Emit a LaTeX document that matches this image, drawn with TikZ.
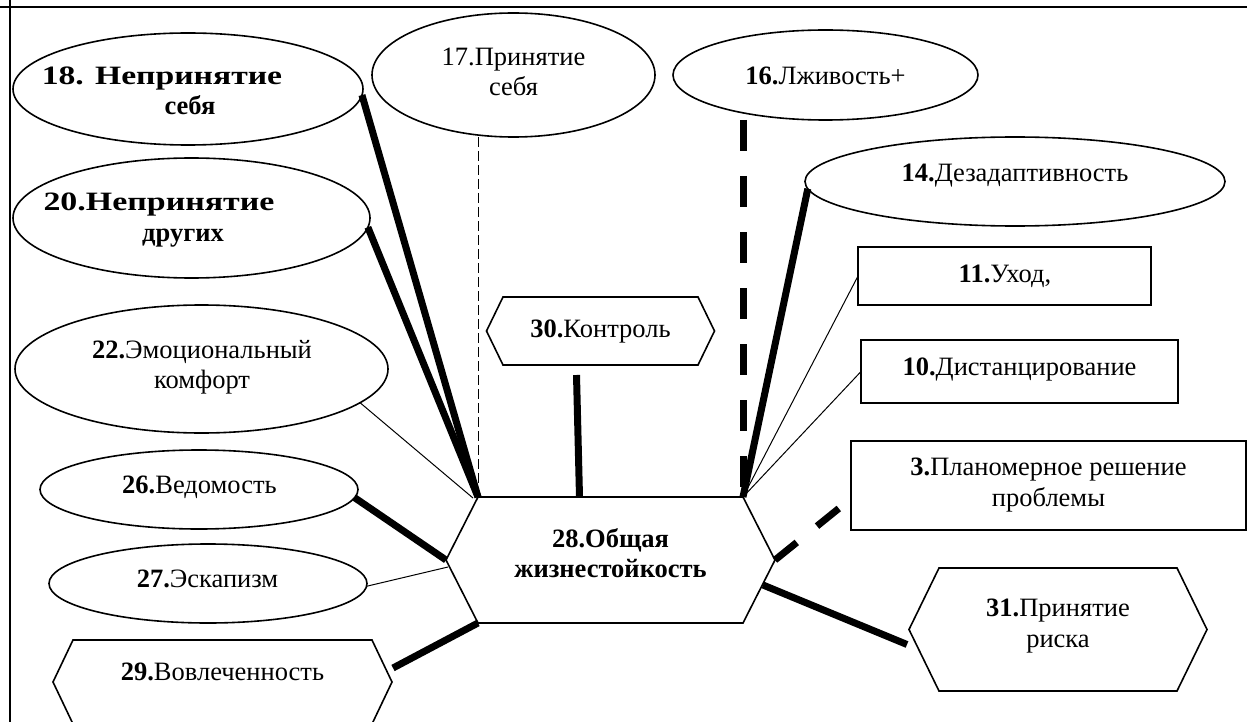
\documentclass[tikz,border=0pt]{standalone}
\usepackage{graphicx}
\usepackage{fontspec}
\setmainfont{Liberation Serif}
\usetikzlibrary{calc,shapes.geometric}

% a line of text shifted sideways inside its node
\newcommand\shiftedline[2]{\makebox[0pt]{\hspace*{#1}#2\hspace*{-#1}}}
% horizontally stretched bold line
\newcommand\widebold[2]{\scalebox{#1}[1]{\bfseries #2}}
% hexagon drawn round a plain rectangular node; #2 = depth of the side points
\newcommand\hexoutline[2]{%
  \coordinate (#1-l) at ($(#1.west)+(-#2,0)$);
  \coordinate (#1-r) at ($(#1.east)+(#2,0)$);
  \draw[shapeline, fill=white] (#1.north west) -- (#1.north east) -- (#1-r)
    -- (#1.south east) -- (#1.south west) -- (#1-l) -- cycle;}

\begin{document}
\begin{tikzpicture}[x=1pt, y=-1pt,
  every node/.style={inner sep=0pt, outer sep=0pt},
  shapeline/.style={line width=1.6pt},
  ell/.style={ellipse, draw, shapeline, fill=white},
  rectbox/.style={rectangle, draw, shapeline, fill=white},
  hexcore/.style={rectangle},
  lbl/.style={font=\fontsize{26.5}{30.5}\selectfont, align=center},
  thickc/.style={line width=7pt},
  thinc/.style={line width=1pt},
  thickdash/.style={line width=7pt, dash pattern=on 31pt off 25pt},
  thindash/.style={line width=1pt, dash pattern=on 10pt off 4pt}]

\useasboundingbox (0,0) rectangle (1247,722);
\clip (0,0) rectangle (1247,722);

% frame of the table cell
\draw[line width=2pt] (0,7.5) -- (1247,7.5);
\draw[line width=2pt] (9.5,0) -- (9.5,722);

% ellipses
\node[ell, minimum width=350pt, minimum height=112pt] (n18) at (188,89) {};
\node[ell, minimum width=283pt, minimum height=124pt] (n17) at (513.5,75) {};
\node[ell, minimum width=305pt, minimum height=90pt]  (n16) at (825.5,75) {};
\node[ell, minimum width=420pt, minimum height=89pt]  (n14) at (1015,181.5) {};
\node[ell, minimum width=357pt, minimum height=120pt] (n20) at (191.5,218) {};
\node[ell, minimum width=373pt, minimum height=128pt] (n22) at (201.5,369) {};
\node[ell, minimum width=318pt, minimum height=79pt]  (n26) at (199,489.5) {};
\node[ell, minimum width=318pt, minimum height=79pt]  (n27) at (208,583.5) {};

% rectangles
\node[rectbox, minimum width=293pt, minimum height=58pt] (n11) at (1004.5,276) {};
\node[rectbox, minimum width=317pt, minimum height=63pt] (n10) at (1019.5,371.5) {};
\node[rectbox, minimum width=395pt, minimum height=89pt] (n3)  at (1048.5,485.5) {};

% hexagons
\node[hexcore, minimum width=195pt, minimum height=68pt]  (h30) at (600.5,331) {};
\hexoutline{h30}{16.5}
\node[hexcore, minimum width=265pt, minimum height=126pt] (hx)  at (610.5,560) {};
\hexoutline{hx}{32}
\node[hexcore, minimum width=299pt, minimum height=84pt]  (h29) at (222.5,682) {};
\hexoutline{h29}{20}
\node[hexcore, minimum width=238pt, minimum height=123pt] (h31) at (1058,629.5) {};
\hexoutline{h31}{30}

% labels
\node[lbl] (t18) at (190,91) {\shiftedline{-28pt}{\widebold{1.27}{18. Непринятие}}\\\bfseries себя};
\node[lbl] (t17) at (513.5,72) {17.Принятие\\себя};
\node[lbl, anchor=base] (t16) at (825.5,85) {{\bfseries 16.}Лживость+};
\node[lbl, anchor=base] (t14) at (1015,182) {{\bfseries 14.}Дезадаптивность};
\node[lbl] (t20) at (183,220) {\shiftedline{-24pt}{\widebold{1.28}{20.Непринятие}}\\\bfseries других};
\node[lbl] (t22) at (202,367) {{\bfseries 22.}Эмоциональный\\комфорт};
\node[lbl, anchor=base] (t26) at (199.5,493) {{\bfseries 26.}Ведомость};
\node[lbl, anchor=base] (t27) at (207.5,587) {{\bfseries 27.}Эскапизм};
\node[lbl, anchor=base] (t11) at (1005,282) {{\bfseries 11.}Уход,};
\node[lbl, anchor=base] (t10) at (1019.5,375) {{\bfseries 10.}Дистанцирование};
\node[lbl] (t3) at (1048.5,485) {{\bfseries 3.}Планомерное решение\\проблемы};
\node[lbl, anchor=base] (t30) at (600.5,337) {{\bfseries 30.}Контроль};
\node[lbl] (t28) at (610.5,553) {\bfseries 28.Общая\\\bfseries жизнестойкость};
\node[lbl, anchor=base] (t29) at (222.5,680) {{\bfseries 29.}Вовлеченность};
\node[lbl] (t31) at (1058,626) {{\bfseries 31.}Принятие\\риска};

% connectors to the upper-left corner of the centre
\draw[thickc] (n18.-2) -- (hx.north west);
\draw[thickc] (n20.-3) -- (hx.north west);
\draw[thinc] (n22.-12) -- ($(hx.north west)+(-5,1)$);
\draw[thindash] (hx.north west |- n17.south) -- (hx.north west);
% left side
\draw[thickc] (n26.-3) -- (hx-l);
\draw[thinc] (n27.-1) -- ($(hx-l)+(2,7)$);
\draw[thickc] ($(h29.east)+(21,-14)$) -- (hx.south west);
% top
\draw[thickc] ($(h30.south)+(-24,10)$) -- ($(hx.north)+(-31,0)$);
% connectors to the upper-right corner of the centre
\draw[thickdash] (hx.north east |- n16.south) -- (hx.north east);
\draw[thickc] (n14.182) -- (hx.north east);
\draw[thinc] (n11.west) -- (hx.north east);
\draw[thinc] (n10.west) -- (hx.north east);
% right side
\draw[line width=7pt, dash pattern=on 28pt off 26pt] (hx-r) -- ($(n3.west)+(-11,22)$);
\draw[thickc] ($(hx.east)+(20,25)$) -- ($(h31.west)+(-32,15)$);

\end{tikzpicture}
\end{document}
